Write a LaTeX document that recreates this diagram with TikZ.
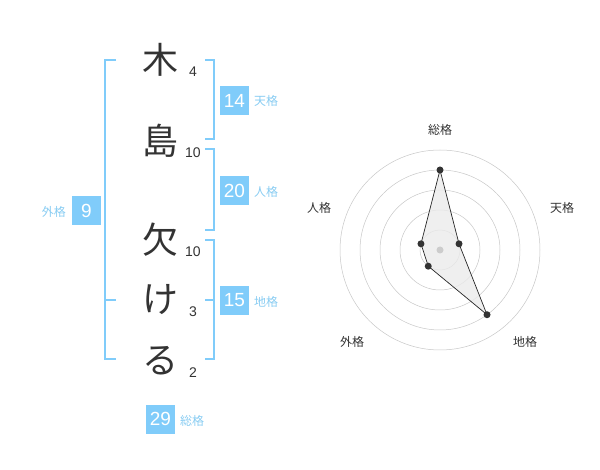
\documentclass[tikz,border=0pt]{standalone}
\usepackage{fontspec}
\setmainfont{Liberation Sans}
\newfontfamily\jp{Noto Sans CJK JP}
\definecolor{kblue}{HTML}{80CCFA}
\definecolor{klabel}{HTML}{88CCF2}
\definecolor{kdark}{HTML}{333333}
\begin{document}
\begin{tikzpicture}[x=1pt,y=-1pt,
  kanji/.style={font=\jp\fontsize{36}{36}\selectfont, text=kdark, inner sep=0pt},
  strokes/.style={font=\fontsize{14}{14}\selectfont, text=kdark, inner sep=0pt},
  scorebox/.style={fill=kblue, text=white, minimum width=29pt, minimum height=29pt, inner sep=0pt, font=\fontsize{19}{19}\selectfont},
  scorelabel/.style={font=\jp\fontsize{12}{12}\selectfont, text=klabel, inner sep=0pt},
  brk/.style={draw=kblue, line width=2pt},
  ring/.style={draw=black!22, line width=0.5pt},
  axislabel/.style={font=\jp\fontsize{12}{12}\selectfont, text=kdark, inner sep=0pt},
  dot/.style={circle, fill=kdark, inner sep=0pt, minimum size=7pt}
]
\useasboundingbox (0,0) rectangle (600,470);
% characters
\node[kanji] (c1) at (160,60) {木};
\node[kanji] (c2) at (160,141) {島};
\node[kanji] (c3) at (160,240) {欠};
\node[kanji] (c4) at (160,300) {け};
\node[kanji] (c5) at (160,361) {る};
\node[strokes] (s1) at (193,72) {4};
\node[strokes] (s2) at (193,153) {10};
\node[strokes] (s3) at (193,252) {10};
\node[strokes] (s4) at (193,312) {3};
\node[strokes] (s5) at (193,373) {2};
% brackets
\coordinate (lt) at (116,60); \coordinate (lb) at (116,359);
\draw[brk] (lt) -- (105,60) -- (105,359) -- (lb);
\draw[brk] (105,300) -- (116,300);
\draw[brk] (205,60) -- (214,60) -- (214,139) -- (205,139);
\draw[brk] (205,149) -- (214,149) -- (214,230) -- (205,230);
\draw[brk] (205,240) -- (214,240) -- (214,359) -- (205,359);
\draw[brk] (205,300) -- (214,300);
% scores
\node[scorebox] (b1) at (234.5,100.5) {14};
\node[scorelabel, anchor=west] (l1) at (254,101) {天格};
\node[scorebox] (b2) at (234.5,190.5) {20};
\node[scorelabel, anchor=west] (l2) at (254,192) {人格};
\node[scorebox] (b3) at (234.5,300.5) {15};
\node[scorelabel, anchor=west] (l3) at (254,302) {地格};
\node[scorebox] (b4) at (86.5,210.5) {9};
\node[scorelabel, anchor=east] (l4) at (66,212) {外格};
\node[scorebox] (b5) at (160.5,419) {29};
\node[scorelabel, anchor=west] (l5) at (180,421) {総格};
% radar
\coordinate (o) at (440,250);
\foreach \r in {20,40,60,80,100} \draw[ring] (o) circle[radius=\r];
\path (o) ++(0,-80) coordinate (p1);
\path (o) ++({20*cos(18)},{-20*sin(18)}) coordinate (p2);
\path (o) ++({80*cos(54)},{80*sin(54)}) coordinate (p3);
\path (o) ++({-20*cos(54)},{20*sin(54)}) coordinate (p4);
\path (o) ++({-20*cos(18)},{-20*sin(18)}) coordinate (p5);
\draw[fill=black!8, fill opacity=0.8, draw=black!85, line width=0.7pt] (p1) -- (p2) -- (p3) -- (p4) -- (p5) -- cycle;
\foreach \p in {p1,p2,p3,p4,p5} \node[dot] at (\p) {};
\node[circle, fill=black!20, inner sep=0pt, minimum size=7pt] (oc) at (o) {};
\node[axislabel] (a1) at (440,130) {総格};
\node[axislabel] (a2) at (562,208) {天格};
\node[axislabel] (a3) at (525,342) {地格};
\node[axislabel] (a4) at (352,342) {外格};
\node[axislabel] (a5) at (319,208) {人格};
\end{tikzpicture}
\end{document}
